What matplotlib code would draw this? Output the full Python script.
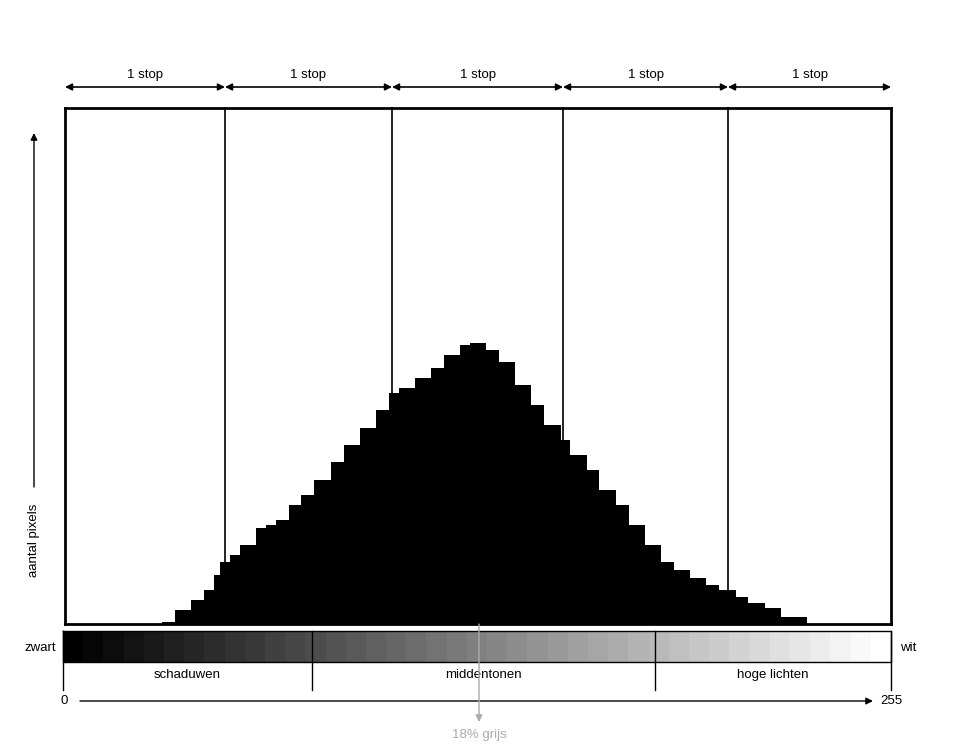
import numpy as np
import matplotlib.pyplot as plt

plt.rcParams['font.family'] = ['Liberation Sans', 'DejaVu Sans']

# histogram levels (0-255) and relative counts
levels = [30, 34, 39, 43, 46, 48, 51, 54, 59, 62, 65, 69, 73, 77, 82, 86, 91, 96,
          100, 103, 108, 113, 117, 122, 125, 130, 134, 139, 144, 148, 153, 156,
          161, 165, 170, 174, 179, 184, 188, 193, 198, 202, 207, 211, 216, 221, 225, 229]
counts = [2, 14, 24, 34, 49, 62, 69, 79, 96, 99, 104, 119, 129, 144, 162, 179, 196, 214,
          231, 236, 246, 256, 269, 279, 281, 274, 262, 239, 219, 199, 184, 169,
          154, 134, 119, 99, 79, 62, 54, 46, 39, 34, 27, 21, 16, 7, 7, 0]
stop_px = [65, 225, 392, 563, 728, 891]
zones = ["schaduwen", "middentonen", "hoge lichten"]
zone_px = [63, 312, 655, 891]

W, H = 960, 753
fig = plt.figure(figsize=(W / 100, H / 100), dpi=100)

# histogram axes
ax = fig.add_axes([65 / W, (H - 624) / H, 826 / W, 516 / H])
ax.fill_between(levels, counts, step='post', color='black', lw=0)
ax.set_xlim(0, 255)
ax.set_ylim(0, 516)
ax.set_xticks([]); ax.set_yticks([])
for s in ax.spines.values():
    s.set_linewidth(2)

# overlay in pixel coordinates for the annotations
ov = fig.add_axes([0, 0, 1, 1])
ov.set_xlim(0, W); ov.set_ylim(H, 0); ov.axis('off')
ov.patch.set_alpha(0)

fs = 9.5
for x in stop_px[1:-1]:
    ov.plot([x, x], [108, 624], color='black', lw=1.2)
for a, b in zip(stop_px[:-1], stop_px[1:]):
    ov.annotate('', xy=(a, 87), xytext=(b, 87),
                arrowprops=dict(arrowstyle='<|-|>', color='black', lw=1.2, mutation_scale=10,
                                shrinkA=0, shrinkB=0))
    ov.text((a + b) / 2, 75, "1 stop", ha='center', va='center', fontsize=fs)

# y-axis label with arrow
ov.annotate('', xy=(34, 133), xytext=(34, 487),
            arrowprops=dict(arrowstyle='-|>', color='black', lw=1, mutation_scale=10,
                            shrinkA=0, shrinkB=0))
ov.text(34, 540, "aantal pixels", rotation=90, ha='center', va='center', fontsize=fs)

# gradient bar
grad = np.linspace(0, 1, 41)[None, :]
ov.imshow(grad, cmap='gray', aspect='auto', extent=(63, 891, 662, 631), vmin=0, vmax=1)
ov.plot([63, 891, 891, 63, 63], [631, 631, 662, 662, 631], color='black', lw=1)
ov.set_xlim(0, W); ov.set_ylim(H, 0)
for x in zone_px:
    ov.plot([x, x], [631, 690], color='black', lw=1)
for i, z in enumerate(zones):
    ov.text((zone_px[i] + zone_px[i + 1]) / 2, 675, z, ha='center', va='center', fontsize=fs)
ov.text(40, 648, "zwart", ha='center', va='center', fontsize=fs)
ov.text(908, 648, "wit", ha='center', va='center', fontsize=fs)

# bottom axis
ov.annotate('', xy=(873, 701), xytext=(80, 701),
            arrowprops=dict(arrowstyle='-|>', color='black', lw=1, mutation_scale=10,
                            shrinkA=0, shrinkB=0))
ov.text(64, 701, "0", ha='center', va='center', fontsize=fs)
ov.text(891, 701, "255", ha='center', va='center', fontsize=fs)

# 18% grey marker
ov.annotate('', xy=(479, 722), xytext=(479, 624),
            arrowprops=dict(arrowstyle='-|>', color='#aaaaaa', lw=1, mutation_scale=10,
                            shrinkA=0, shrinkB=0))
ov.text(479, 735, "18% grijs", ha='center', va='center', fontsize=fs, color='#aaaaaa')

fig.savefig("out.png", dpi=100)
